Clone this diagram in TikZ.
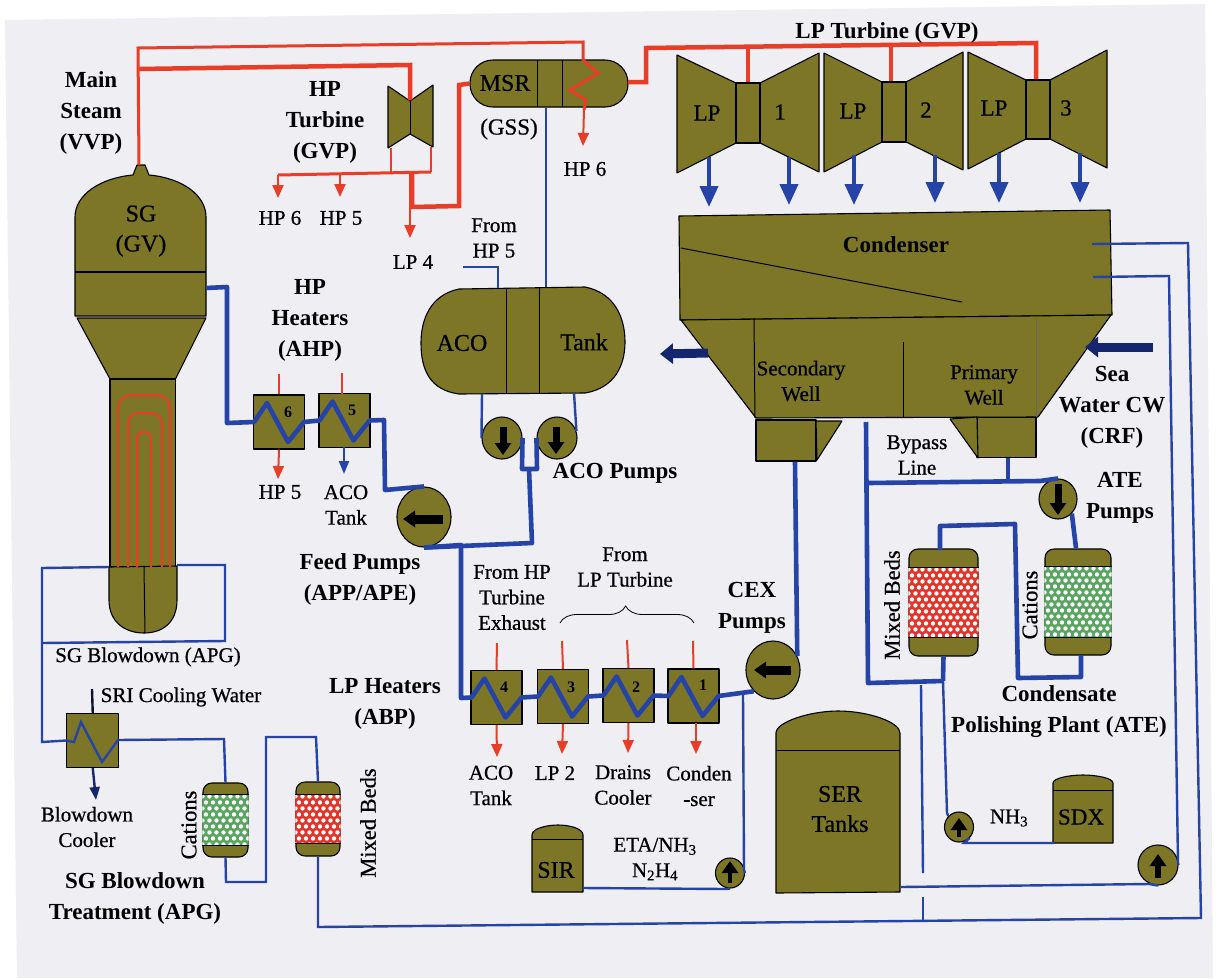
\documentclass[tikz,border=0pt]{standalone}
\usepackage{fontspec}
\setmainfont{Liberation Serif}
\newfontfamily\platefont[FakeBold=0.7]{Liberation Serif}
\usetikzlibrary{arrows.meta,calc,decorations.pathreplacing,shapes.geometric}

\definecolor{plantolive}{RGB}{124,118,38}
\definecolor{pipered}{RGB}{232,62,40}
\definecolor{pipeblue}{RGB}{38,68,168}
\definecolor{pipenavy}{RGB}{22,38,110}
\definecolor{panelgrey}{RGB}{238,238,243}
\definecolor{bedred}{RGB}{226,52,40}
\definecolor{bedgreen}{RGB}{88,165,95}

\tikzset{
	lbl/.style={inner sep=0pt, align=center, text=black, font=\platefont\fontsize{21}{25.5}\selectfont},
	midlbl/.style={lbl, font=\platefont\fontsize{24}{30}\selectfont},
	lplbl/.style={lbl, font=\platefont\fontsize{23}{25}\selectfont},
	rotlbl/.style={lbl, rotate=90, font=\platefont\fontsize{22.5}{25}\selectfont},
	biglbl/.style={lbl, font=\bfseries\fontsize{23}{31}\selectfont},
	numlbl/.style={lbl, font=\bfseries\fontsize{16}{18}\selectfont},
	vessel/.style={draw=black, fill=plantolive, line width=1.1pt, line join=round},
	tankbox/.style={vessel, inner sep=0pt},
	heater/.style={tankbox, minimum width=51pt, minimum height=54pt},
	bedbox/.style={tankbox, rounded corners=9pt},
	pumpbody/.style={tankbox, ellipse},
	redthin/.style={draw=pipered, line width=2pt},
	redmid/.style={draw=pipered, line width=3pt},
	redthick/.style={draw=pipered, line width=4.5pt},
	bluethin/.style={draw=pipeblue, line width=2.4pt},
	bluethick/.style={draw=pipeblue, line width=4.6pt, line join=round},
	redtip/.style={redthin, -{Stealth[inset=0pt, length=13pt, width=11pt]}},
	bluetip/.style={bluethin, -{Stealth[inset=0pt, length=13pt, width=10pt]}},
	exhaust/.style={draw=pipeblue, line width=4pt, -{Stealth[inset=0pt, length=21pt, width=18pt]}},
	bigflow/.style={draw=pipenavy, line width=9pt, -{Stealth[inset=0pt, length=13pt, width=20pt]}},
	pumparrow/.style={draw=black, line width=#1, -{Stealth[inset=0pt, length=12pt, width=16pt]}},
	pumparrow/.default=7pt
}

\begin{document}
\begin{tikzpicture}[x=1pt, y=-1pt, >=stealth]
	\newcommand{\HeaterCoil}[1]{
		-- ($(#1.center)+(-25,0)$) -- ($(#1.center)+(-12,-19)$) -- ($(#1.center)+(9,20)$) -- ($(#1.center)+(25,0)$)
	}
	\newcommand{\ResinBed}[3]{
		\coordinate (#1a) at ($(#1.north west)+(0,#3)$);
		\coordinate (#1b) at ($(#1.south east)+(0,-#3)$);
		\begin{scope}
			\clip (#1a) rectangle (#1b);
			\fill[#2] (#1a) rectangle (#1b);
			\foreach \row in {0,...,11} \foreach \col in {0,...,10}
				\fill[white] ($(#1a)+({\col*7+mod(\row,2)*3.5},{\row*6+2})$) circle (2.2);
		\end{scope}
		\draw[line width=1.8pt] (#1a) -- (#1a -| #1b);
		\draw[line width=1.8pt] (#1b) -- (#1b -| #1a);
	}

	\useasboundingbox (0,0) rectangle (1219,978);
	\fill[white] (0,0) rectangle (1219,978);
	\fill[panelgrey] (5,20) -- (1205,4) -- (1213,978) -- (17,978) -- cycle;

	% steam generator
	\draw[vessel] (75,272) -- (75,217) .. controls (75,195) and (100,178) .. (133,175) -- (137,165) -- (145,165) -- (149,175)
		.. controls (182,178) and (206,195) .. (206,217) -- (206,316) -- (75,316) -- cycle;
	\draw[vessel] (75,272) -- (206,272);
	\draw[vessel] (77,318) -- (206,318) -- (175.5,379) -- (110,379) -- cycle;
	\draw[vessel] (110,379) rectangle (175.5,567);
	\draw[vessel] (109,567) -- (109,600) .. controls (109,622) and (125,633) .. (144,633)
		.. controls (163,633) and (177,622) .. (177,600) -- (177,566) -- cycle;
	\draw[line width=1pt] (144,567) -- (145,633);
	\draw[redthin, rounded corners=13pt] (118,567) -- (118,395) -- (170,395) -- (170,567);
	\draw[redthin, rounded corners=11pt] (128,567) -- (128,413) -- (162,413) -- (162,567);
	\draw[redthin, rounded corners=6pt] (137,567) -- (137,432) -- (151,432) -- (151,567);
	\coordinate (sgtop) at (139,165);
	\coordinate (sgout) at (206,288);

	% turbines
	\draw[vessel] (388,86) -- (410,101) -- (433,85) -- (433,147) -- (410,134) -- (388,148) -- cycle;
	\draw[line width=1pt] (410,101) -- (410,134);
	\node[tankbox, rounded corners=23pt, minimum width=158pt, minimum height=47pt] (msr) at (549,83.5) {};
	\draw[line width=1pt] (537,60) -- (537,107);
	\draw[line width=1pt] (562,60) -- (562,107);

	\draw[vessel] (677,55) -- (736,83) -- (736,143) -- (677,173) -- cycle;
	\draw[vessel] (760,83) -- (819,53) -- (819,172) -- (760,143) -- cycle;
	\node[tankbox, minimum width=24pt, minimum height=60pt] (neckone) at (748,113) {};
	\draw[vessel] (824,53) -- (882,82) -- (882,142) -- (824,172) -- cycle;
	\draw[vessel] (906,82) -- (963,52) -- (963,170) -- (906,142) -- cycle;
	\node[tankbox, minimum width=24pt, minimum height=60pt] (necktwo) at (894,112) {};
	\draw[vessel] (968,52) -- (1026,80) -- (1026,139) -- (968,169) -- cycle;
	\draw[vessel] (1050,80) -- (1107,50) -- (1107,168) -- (1050,139) -- cycle;
	\node[tankbox, minimum width=24pt, minimum height=59pt] (neckthree) at (1038,109.5) {};

	% condenser
	\draw[vessel] (679,216) -- (1110,210) -- (1112,315) -- (680,320) -- cycle;
	\draw[line width=1pt] (681,248) -- (962,302);
	\draw[vessel] (681,320) -- (1111,315) -- (1038,417) -- (756,418) -- cycle;
	\draw[line width=1pt] (754,318) -- (755,418);
	\draw[line width=1pt] (903,342) -- (903,418);
	\draw[line width=1pt, black!60] (1036,317) -- (1036,417);
	\node[tankbox, minimum width=60pt, minimum height=41pt] (wellsec) at (786,440.5) {};
	\draw[vessel] (816,421) -- (842,421) -- (817,460) -- cycle;
	\node[tankbox, minimum width=59pt, minimum height=40pt] (wellpri) at (1006.5,437.5) {};
	\draw[vessel] (950,419) -- (977,417) -- (978,458) -- cycle;

	% tanks
	\draw[vessel] (459,289) .. controls (430,295) and (421,320) .. (421,343) .. controls (421,370) and (430,390) .. (459,394)
		-- (585,393) .. controls (615,388) and (625,365) .. (625,342) .. controls (625,318) and (615,293) .. (585,287) -- cycle;
	\draw[line width=1pt] (506,289) -- (506,394);
	\draw[line width=1pt] (539,287) -- (539,393);
	\coordinate (acotopa) at (498,288);
	\coordinate (acotopb) at (546,287);
	\coordinate (acobota) at (482,394);
	\coordinate (acobotb) at (574,393);
	\draw[vessel] (776,893) -- (776,733) .. controls (776,722) and (810,711) .. (838,711)
		.. controls (868,711) and (900,722) .. (900,733) -- (900,892) -- cycle;
	\draw[line width=1pt] (776,750) -- (900,750);
	\coordinate (serside) at (901,887);
	\draw[vessel] (532,892) -- (532,835) .. controls (532,828) and (548,825) .. (558,825) .. controls (568,825) and (583,828) .. (583,835) -- (583,892) -- cycle;
	\draw[line width=1pt] (532,839) -- (583,839);
	\coordinate (sirside) at (583,888);
	\draw[vessel] (1053,843) -- (1053,783) .. controls (1053,778) and (1070,775) .. (1083,775) .. controls (1096,775) and (1113,778) .. (1113,783) -- (1113,843) -- cycle;
	\draw[line width=1pt] (1053,790) -- (1113,790);
	\coordinate (sdxside) at (1054,843);

	% heaters
	\node[heater] (heatsix) at (279,422) {};
	\node[heater] (heatfive) at (344.5,420.5) {};
	\node[heater] (heatfour) at (496.5,697.5) {};
	\node[heater] (heatthree) at (563,696.5) {};
	\node[heater] (heattwo) at (628.5,695.5) {};
	\node[heater] (heatone) at (693.5,696) {};
	\node[heater, minimum width=52pt] (cooler) at (92.75,740.5) {};

	% pumps
	\node[pumpbody, minimum width=54pt, minimum height=60pt] (feedpump) at (424,517) {};
	\node[pumpbody, minimum width=40pt, minimum height=42pt] (acopumpa) at (502,438) {};
	\node[pumpbody, minimum width=40pt, minimum height=42pt] (acopumpb) at (557,438) {};
	\node[pumpbody, minimum width=54pt, minimum height=58pt] (cexpump) at (773,670) {};
	\node[pumpbody, minimum width=38pt, minimum height=40pt] (atepump) at (1058,499) {};
	\node[pumpbody, minimum width=29pt, minimum height=30pt] (sirpump) at (730,873) {};
	\node[pumpbody, minimum width=29pt, minimum height=30pt] (sdxpump) at (959,827) {};
	\node[pumpbody, minimum width=40pt, minimum height=40pt] (crfpump) at (1158,865) {};
	\draw[pumparrow=9pt] ($(feedpump.center)+(19,2)$) -- ($(feedpump.center)+(-21,2)$);
	\draw[pumparrow] ($(acopumpa.center)+(1,-11)$) -- ($(acopumpa.center)+(1,17)$);
	\draw[pumparrow] ($(acopumpb.center)+(-1,-11)$) -- ($(acopumpb.center)+(-1,16)$);
	\draw[pumparrow=9pt] ($(cexpump.center)+(18,0)$) -- ($(cexpump.center)+(-19,0)$);
	\draw[pumparrow] ($(atepump.center)+(0,-15)$) -- ($(atepump.center)+(0,16)$);
	\draw[pumparrow=4.5pt] ($(sirpump.center)+(0,10)$) -- ($(sirpump.center)+(0,-12)$);
	\draw[pumparrow=4.5pt] ($(sdxpump.center)+(0,10)$) -- ($(sdxpump.center)+(0,-9)$);
	\draw[pumparrow=6pt] ($(crfpump.center)+(0,13)$) -- ($(crfpump.center)+(0,-11)$);

	% resin beds
	\node[bedbox, minimum width=45pt, minimum height=74pt] (catsmall) at (225.5,820) {};
	\node[bedbox, minimum width=44pt, minimum height=74pt] (mixsmall) at (318,819) {};
	\node[bedbox, minimum width=69pt, minimum height=107pt] (mixbig) at (943.5,602.5) {};
	\node[bedbox, minimum width=66pt, minimum height=106pt] (catbig) at (1078,602) {};
	\ResinBed{catsmall}{bedgreen}{12}
	\ResinBed{mixsmall}{bedred}{13}
	\ResinBed{mixbig}{bedred}{19}
	\ResinBed{catbig}{bedgreen}{18}

	% steam lines
	\coordinate (steamtee) at (138,69);
	\coordinate (hptop) at (410,100);
	\coordinate (hpbleeda) at (391,148);
	\coordinate (hpbleedb) at (431,147);
	\coordinate (hpfive) at (340,197);
	\coordinate (hpsix) at (278,198);
	\coordinate (lpfour) at (410,238);
	\coordinate (msrdrain) at (583,146);
	\coordinate (msrout) at (628,82);
	\coordinate (lpfeedend) at (1036,79);
	\draw[redmid] (sgtop) -- (138,48) -- (583,42) -- (583,60) -- (598,73) -- (570,90) -- (586,100) -- (584,110);
	\draw[redtip] (584,110) -- (msrdrain);
	\draw[redthick] (steamtee) -- (410,65) -- (hptop);
	\draw[redthin] (hpbleeda) -- (391,174);
	\draw[redthin] (hpbleedb) -- (431,172);
	\draw[redmid] (278,175) -- (431,172);
	\draw[redtip] (278,175) -- (hpsix);
	\draw[redtip] (340,174) -- (hpfive);
	\draw[redtip] (410,173) -- (lpfour);
	\draw[redthick] (412,173) -- (412,207) -- (459,206) -- (459,85) -- (msr.west);
	\draw[redthick] (msrout) -- (646,82) -- (646,48) -- (1036,43) -- (lpfeedend);
	\draw[redthick] (748,47) -- (neckone.north);
	\draw[redthick] (891,46) -- (necktwo.north -| 891,0);

	% exhaust
	\coordinate (exa) at (709,207);
	\coordinate (exb) at (789,205);
	\coordinate (exc) at (854,205);
	\coordinate (exd) at (935,203);
	\coordinate (exe) at (999,203);
	\coordinate (exf) at (1080,203);
	\draw[exhaust] (709,157) -- (exa);
	\draw[exhaust] (789,157) -- (exb);
	\draw[exhaust] (854,155) -- (exc);
	\draw[exhaust] (935,155) -- (exd);
	\draw[exhaust] (999,153) -- (exe);
	\draw[exhaust] (1080,153) -- (exf);
	\coordinate (flowleft) at (660,354);
	\coordinate (flowright) at (1085,347);
	\draw[bigflow] (708,353) -- (flowleft);
	\draw[bigflow] (1153,347) -- (flowright);

	% feed water
	\draw[bluethick] (sgout) -- (227,287) -- (227,423) \HeaterCoil{heatsix} \HeaterCoil{heatfive} -- (384,420) -- (385,490) -- (feedpump.north);
	\draw[bluethick] (feedpump.south) -- (461,545) -- (461,698) \HeaterCoil{heatfour} \HeaterCoil{heatthree} \HeaterCoil{heattwo} \HeaterCoil{heatone} -- (cexpump.228);
	\draw[bluethick] (feedpump.south) -- (532,543) -- (529,469);
	\draw[bluethick] (acopumpa.east) -- (522,469) -- (537,469) -- (acopumpb.west);
	\draw[bluethin] (acobota) -- (acopumpa.west);
	\draw[bluethin] (acobotb) -- (acopumpb.20);
	\draw[bluethin] (msr.south -| acotopb) -- (acotopb);
	\coordinate (fromhpfive) at (463,267);
	\draw[bluethin] (fromhpfive) -- (498,267) -- (acotopa);

	% heater bleeds
	\coordinate (insix) at (279,374);
	\coordinate (infive) at (342,373);
	\coordinate (outsix) at (278,479);
	\coordinate (outfive) at (344,474);
	\draw[redthin] (insix) -- (heatsix.north);
	\draw[redthin] (infive) -- (342,394);
	\draw[redtip] (heatsix.south) -- (outsix);
	\draw[bluetip] (344,447) -- (outfive);
	\coordinate (infour) at (497,643);
	\coordinate (inthree) at (562,641);
	\coordinate (intwo) at (627,640);
	\coordinate (inone) at (693,641);
	\coordinate (outfour) at (497,757);
	\coordinate (outthree) at (562,754);
	\coordinate (outtwo) at (628,753);
	\coordinate (outone) at (696,754);
	\draw[redthin] (infour) -- (heatfour.north);
	\draw[redthin] (inthree) -- (heatthree.north);
	\draw[redthin] (intwo) -- (heattwo.north);
	\draw[redthin] (inone) -- (heatone.north);
	\draw[redtip] (heatfour.south) -- (outfour);
	\draw[redtip] (heatthree.south) -- (outthree);
	\draw[redtip] (heattwo.south) -- (outtwo);
	\draw[redtip] (696,723) -- (outone);

	% condensate
	\draw[bluethick] (wellsec.south -| 795,0) -- (cexpump.30);
	\coordinate (bypasstop) at (866,422);
	\draw[bluethick] (bypasstop) -- (868,683) -- (943,681);
	\draw[bluethick] (868,483) -- (1040,481) -- (atepump.north);
	\draw[bluethick] (wellpri.south -| 1008,0) -- (1008,483);
	\draw[bluethick] (atepump.south east) -- (1076,548);
	\draw[bluethick] (940,550) -- (940,526) -- (1015,524) -- (1018,678) -- (1081,677) -- (1081,655);
	\draw[bluethick] (mixbig.south) -- (943,681);
	\draw[bluethin] (943,681) -- (947,813) -- (sdxpump.north west);
	\draw[bluethin] (sdxpump.south east) -- (964,843) -- (sdxside);
	\draw[bluethin] (921,685) -- (923,873);
	\draw[bluethin] (923,897) -- (923,922);
	\draw[bluethin] (743,695) -- (744,870) -- (sirpump.east);
	\draw[bluethin] (sirpump.south) -- (726,889) -- (sirside);

	% cooling water
	\coordinate (cwouta) at (1092,244);
	\coordinate (cwoutb) at (1093,277);
	\draw[bluethin] (cwouta) -- (1188,243) -- (1201,918) -- (318,927) -- (mixsmall.south);
	\draw[bluethin] (cwoutb) -- (1169,276) -- (1178,863) -- (crfpump.east);
	\draw[bluethin] (crfpump.south) -- (1149,884) -- (serside);

	% blowdown
	\draw[bluethin] (109,567) -- (42,568) -- (42,742) -- (cooler.west) -- (74,742) -- (81,722) -- (102,762) -- (118,740) -- (224,739) -- (catsmall.north);
	\draw[bluethin] (177,565) -- (225,565) -- (225,641) -- (42,643);
	\coordinate (sricool) at (92,689);
	\coordinate (blowout) at (96,800);
	\draw[bluethin, draw=black!70!pipeblue] (sricool) -- (cooler.north);
	\draw[bluetip, draw=pipenavy, -{Stealth[inset=0pt, length=13pt, width=10pt]}] (cooler.south) -- (blowout);
	\draw[bluethin] (catsmall.south) -- (226,882) -- (266,882) -- (266,737) -- (316,737) -- (mixsmall.north);

	\draw[line width=.8pt, decorate, decoration={brace, amplitude=17pt, aspect=.49}] (560,623) -- (694,623);

	% labels
	\node[biglbl] (lblsteam) at (91,113) {Main\\Steam\\(VVP)};
	\node[biglbl] (lblhpturb) at (325,122) {HP\\Turbine\\(GVP)};
	\node[midlbl] (lblmsr) at (505,83) {MSR};
	\node[lplbl] (lblgss) at (509,129) {(GSS)};
	\node[lbl] (lblhpsixa) at (585,169) {HP 6};
	\node[lbl] (lblhpsixb) at (280,218) {HP 6};
	\node[lbl] (lblhpfivea) at (341,218) {HP 5};
	\node[lbl] (lbllpfour) at (413,262) {LP 4};
	\node[lbl] (lblfrom) at (494,238) {From\\HP 5};
	\node[biglbl] (lbllpturb) at (887,33) {LP Turbine (GVP)};
	\node[lplbl] (lblla) at (707,113) {LP};
	\node[lplbl] (lblna) at (780,112) {1};
	\node[lplbl] (lbllb) at (853,111) {LP};
	\node[lplbl] (lblnb) at (926,110) {2};
	\node[lplbl] (lbllc) at (994,108) {LP};
	\node[lplbl] (lblnc) at (1066,108) {3};
	\node[biglbl] (lblcond) at (896,245) {Condenser};
	\node[lbl] (lblsecwell) at (801,381) {Secondary\\Well};
	\node[lbl] (lblpriwell) at (984,385) {Primary\\Well};
	\node[midlbl] (lblsg) at (141,231) {SG\\(GV)};
	\node[midlbl] (lblaco) at (462,343) {ACO};
	\node[midlbl] (lbltank) at (584,342) {Tank};
	\node[biglbl] (lblheaters) at (310,320) {HP\\Heaters\\(AHP)};
	\node[numlbl] (numsix) at (288,412) {6};
	\node[numlbl] (numfive) at (352,410) {5};
	\node[numlbl] (numfour) at (504,687) {4};
	\node[numlbl] (numthree) at (571,687) {3};
	\node[numlbl] (numtwo) at (636,687) {2};
	\node[numlbl] (numone) at (703,685) {1};
	\node[lbl] (lblhpfiveb) at (280,492) {HP 5};
	\node[lbl] (lblacotanka) at (346,505) {ACO\\Tank};
	\node[biglbl] (lblacopumps) at (615,473) {ACO Pumps};
	\node[biglbl] (lblfeed) at (360,579) {Feed Pumps\\(APP/APE)};
	\node[lbl] (lblfromhp) at (512,597.5) {From HP\\Turbine\\Exhaust};
	\node[lbl] (lblfromlp) at (625,567) {From\\LP Turbine};
	\node[biglbl] (lbllpheaters) at (385,704) {LP Heaters\\(ABP)};
	\node[lbl] (lblacotankb) at (491,785.5) {ACO\\Tank};
	\node[lbl] (lbllptwo) at (555,773) {LP 2};
	\node[lbl] (lbldrains) at (623,785) {Drains\\Cooler};
	\node[lbl] (lblconden) at (699,786) {Conden\\-ser};
	\node[biglbl] (lblcex) at (752,608) {CEX\\Pumps};
	\node[lbl] (lbleta) at (655,859) {ETA/NH\textsubscript{3}\\N\textsubscript{2}H\textsubscript{4}};
	\node[midlbl] (lblsir) at (556,870) {SIR};
	\node[midlbl] (lblser) at (840,809) {SER\\Tanks};
	\node[lplbl] (lblsdx) at (1081,817) {SDX};
	\node[lbl] (lblnh) at (1009,818) {NH\textsubscript{3}};
	\node[lbl] (lblbypass) at (917,455) {Bypass\\Line};
	\node[biglbl] (lblsea) at (1112,407) {Sea\\Water CW\\(CRF)};
	\node[biglbl] (lblate) at (1120,498) {ATE\\Pumps};
	\node[biglbl] (lblpolish) at (1059,712) {Condensate\\Polishing Plant (ATE)};
	\node[rotlbl] (lblmixbig) at (892,605) {Mixed Beds};
	\node[rotlbl] (lblcatbig) at (1030,605) {Cations};
	\node[rotlbl] (lblmixsmall) at (368,823) {Mixed Beds};
	\node[rotlbl] (lblcatsmall) at (189,825) {Cations};
	\node[lbl] (lblblowdown) at (148,657) {SG Blowdown (APG)};
	\node[lbl] (lblsri) at (181,697) {SRI Cooling Water};
	\node[lbl] (lblcooler) at (87,827) {Blowdown\\Cooler};
	\node[biglbl] (lbltreat) at (135,898) {SG Blowdown\\Treatment (APG)};
\end{tikzpicture}
\end{document}
